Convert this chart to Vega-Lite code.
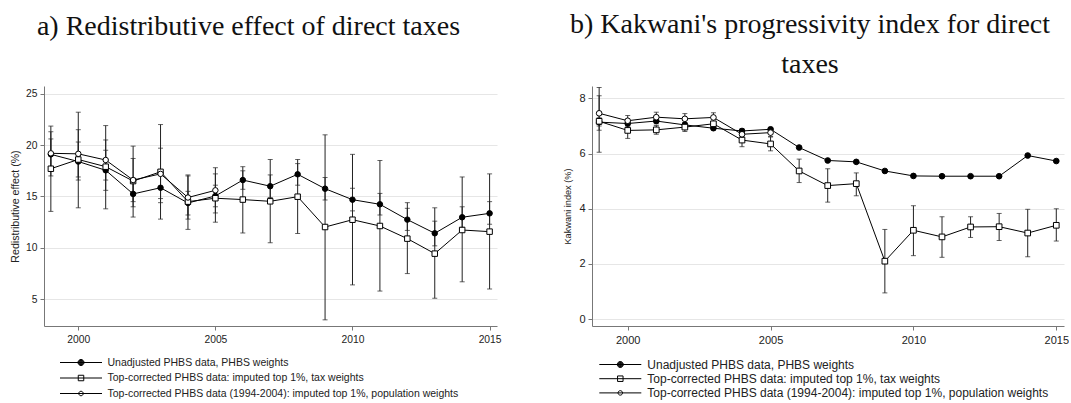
{
  "$schema": "https://vega.github.io/schema/vega-lite/v6.json",
  "background": "white",
  "padding": {"left": 10, "top": 11, "right": 0, "bottom": 0},
  "spacing": 61,
  "config": {
    "view": {"stroke": null},
    "font": "Liberation Sans",
    "axis": {"labelFont": "Liberation Sans", "titleFont": "Liberation Sans", "labelColor": "#222", "titleColor": "#222", "domainColor": "#777", "tickColor": "#777", "titleFontWeight": "normal", "tickSize": 4},
    "title": {"font": "Liberation Serif", "fontWeight": "normal", "color": "#111", "anchor": "middle"}
  },
  "datasets": {
    "left": [
      {"year": 1999, "s": "U", "v": 19.1, "lo": 17.0, "hi": 21.3},
      {"year": 2000, "s": "U", "v": 18.4, "lo": 16.6, "hi": 20.3},
      {"year": 2001, "s": "U", "v": 17.55, "lo": 15.6, "hi": 19.5},
      {"year": 2002, "s": "U", "v": 15.25, "lo": 14.0, "hi": 16.5},
      {"year": 2003, "s": "U", "v": 15.85, "lo": 14.4, "hi": 17.3},
      {"year": 2004, "s": "U", "v": 14.37, "lo": 13.2, "hi": 15.5},
      {"year": 2005, "s": "U", "v": 15.05, "lo": 14.0, "hi": 16.1},
      {"year": 2006, "s": "U", "v": 16.6, "lo": 15.7, "hi": 17.5},
      {"year": 2007, "s": "U", "v": 16.0, "lo": 14.9, "hi": 17.1},
      {"year": 2008, "s": "U", "v": 17.16, "lo": 16.1, "hi": 18.2},
      {"year": 2009, "s": "U", "v": 15.76, "lo": 14.66, "hi": 16.85},
      {"year": 2010, "s": "U", "v": 14.69, "lo": 13.6, "hi": 15.8},
      {"year": 2011, "s": "U", "v": 14.24, "lo": 13.2, "hi": 15.3},
      {"year": 2012, "s": "U", "v": 12.75, "lo": 11.7, "hi": 13.85},
      {"year": 2013, "s": "U", "v": 11.42, "lo": 10.2, "hi": 12.6},
      {"year": 2014, "s": "U", "v": 12.98, "lo": 12.0, "hi": 14.0},
      {"year": 2015, "s": "U", "v": 13.36, "lo": 12.3, "hi": 14.5},
      {"year": 1999, "s": "S", "v": 17.7, "lo": 13.55, "hi": 21.85},
      {"year": 2000, "s": "S", "v": 18.6, "lo": 13.9, "hi": 23.2},
      {"year": 2001, "s": "S", "v": 17.9, "lo": 13.8, "hi": 21.9},
      {"year": 2002, "s": "S", "v": 16.5, "lo": 13.0, "hi": 19.9},
      {"year": 2003, "s": "S", "v": 17.4, "lo": 12.8, "hi": 22.0},
      {"year": 2004, "s": "S", "v": 14.5, "lo": 11.8, "hi": 17.1},
      {"year": 2005, "s": "S", "v": 14.83, "lo": 12.5, "hi": 17.2},
      {"year": 2006, "s": "S", "v": 14.7, "lo": 11.45, "hi": 17.9},
      {"year": 2007, "s": "S", "v": 14.53, "lo": 10.5, "hi": 18.6},
      {"year": 2008, "s": "S", "v": 14.98, "lo": 11.4, "hi": 18.6},
      {"year": 2009, "s": "S", "v": 12.03, "lo": 3.0, "hi": 21.0},
      {"year": 2010, "s": "S", "v": 12.74, "lo": 6.4, "hi": 19.1},
      {"year": 2011, "s": "S", "v": 12.13, "lo": 5.8, "hi": 18.5},
      {"year": 2012, "s": "S", "v": 10.9, "lo": 7.5, "hi": 14.4},
      {"year": 2013, "s": "S", "v": 9.44, "lo": 5.1, "hi": 13.9},
      {"year": 2014, "s": "S", "v": 11.74, "lo": 6.7, "hi": 16.9},
      {"year": 2015, "s": "S", "v": 11.58, "lo": 6.0, "hi": 17.2},
      {"year": 1999, "s": "O", "v": 19.2, "lo": 17.8, "hi": 20.6},
      {"year": 2000, "s": "O", "v": 19.15, "lo": 16.9, "hi": 21.5},
      {"year": 2001, "s": "O", "v": 18.55, "lo": 16.6, "hi": 20.5},
      {"year": 2002, "s": "O", "v": 16.6, "lo": 14.5, "hi": 18.7},
      {"year": 2003, "s": "O", "v": 17.2, "lo": 14.8, "hi": 19.7},
      {"year": 2004, "s": "O", "v": 14.9, "lo": 12.8, "hi": 17.0},
      {"year": 2005, "s": "O", "v": 15.6, "lo": 13.4, "hi": 17.8}
    ],
    "right": [
      {"year": 1999, "s": "U", "v": 7.14, "lo": 7.0, "hi": 7.3},
      {"year": 2000, "s": "U", "v": 7.09, "lo": 7.0, "hi": 7.2},
      {"year": 2001, "s": "U", "v": 7.18, "lo": 7.08, "hi": 7.28},
      {"year": 2002, "s": "U", "v": 7.04, "lo": 6.95, "hi": 7.13},
      {"year": 2003, "s": "U", "v": 6.92, "lo": 6.86, "hi": 6.98},
      {"year": 2004, "s": "U", "v": 6.82, "lo": 6.75, "hi": 6.9},
      {"year": 2005, "s": "U", "v": 6.88, "lo": 6.8, "hi": 6.95},
      {"year": 2006, "s": "U", "v": 6.22, "lo": 6.18, "hi": 6.26},
      {"year": 2007, "s": "U", "v": 5.75, "lo": 5.72, "hi": 5.78},
      {"year": 2008, "s": "U", "v": 5.7, "lo": 5.67, "hi": 5.73},
      {"year": 2009, "s": "U", "v": 5.37, "lo": 5.34, "hi": 5.4},
      {"year": 2010, "s": "U", "v": 5.19, "lo": 5.16, "hi": 5.22},
      {"year": 2011, "s": "U", "v": 5.18, "lo": 5.15, "hi": 5.21},
      {"year": 2012, "s": "U", "v": 5.18, "lo": 5.15, "hi": 5.21},
      {"year": 2013, "s": "U", "v": 5.18, "lo": 5.15, "hi": 5.21},
      {"year": 2014, "s": "U", "v": 5.93, "lo": 5.9, "hi": 5.96},
      {"year": 2015, "s": "U", "v": 5.73, "lo": 5.7, "hi": 5.76},
      {"year": 1999, "s": "S", "v": 7.17, "lo": 6.05, "hi": 8.4},
      {"year": 2000, "s": "S", "v": 6.84, "lo": 6.55, "hi": 7.15},
      {"year": 2001, "s": "S", "v": 6.86, "lo": 6.7, "hi": 7.02},
      {"year": 2002, "s": "S", "v": 6.96, "lo": 6.8, "hi": 7.12},
      {"year": 2003, "s": "S", "v": 7.08, "lo": 6.9, "hi": 7.26},
      {"year": 2004, "s": "S", "v": 6.49, "lo": 6.25, "hi": 6.73},
      {"year": 2005, "s": "S", "v": 6.35, "lo": 6.1, "hi": 6.6},
      {"year": 2006, "s": "S", "v": 5.37, "lo": 4.95, "hi": 5.8},
      {"year": 2007, "s": "S", "v": 4.84, "lo": 4.24, "hi": 5.45},
      {"year": 2008, "s": "S", "v": 4.91, "lo": 4.47, "hi": 5.3},
      {"year": 2009, "s": "S", "v": 2.1, "lo": 0.95, "hi": 3.25},
      {"year": 2010, "s": "S", "v": 3.22, "lo": 2.3, "hi": 4.11},
      {"year": 2011, "s": "S", "v": 2.98, "lo": 2.24, "hi": 3.71},
      {"year": 2012, "s": "S", "v": 3.34, "lo": 2.96, "hi": 3.71},
      {"year": 2013, "s": "S", "v": 3.35, "lo": 2.85, "hi": 3.83},
      {"year": 2014, "s": "S", "v": 3.12, "lo": 2.26, "hi": 3.98},
      {"year": 2015, "s": "S", "v": 3.4, "lo": 2.83, "hi": 4.0},
      {"year": 1999, "s": "O", "v": 7.46, "lo": 6.85, "hi": 8.1},
      {"year": 2000, "s": "O", "v": 7.19, "lo": 7.0, "hi": 7.38},
      {"year": 2001, "s": "O", "v": 7.32, "lo": 7.15, "hi": 7.5},
      {"year": 2002, "s": "O", "v": 7.26, "lo": 7.08, "hi": 7.45},
      {"year": 2003, "s": "O", "v": 7.31, "lo": 7.14, "hi": 7.48},
      {"year": 2004, "s": "O", "v": 6.7, "lo": 6.6, "hi": 6.8},
      {"year": 2005, "s": "O", "v": 6.76, "lo": 6.62, "hi": 6.9}
    ]
  },
  "resolve": {"scale": {"shape": "independent", "fill": "independent"}, "legend": {"shape": "independent", "fill": "independent"}},
  "hconcat": [
    {
      "width": 453,
      "height": 240,
      "title": {"text": "a) Redistributive effect of direct taxes", "fontSize": 28, "baseline": "alphabetic", "offset": 23.5, "dx": -22},
      "data": {"name": "left"},
      "encoding": {
        "x": {"field": "year", "type": "quantitative", "scale": {"domain": [1998.75, 2015.27], "nice": false, "zero": false},
          "axis": {"values": [2000, 2005, 2010, 2015], "format": "d", "title": null, "grid": false, "labelFontSize": 10.3, "labelPadding": 4}}
      },
      "resolve": {"scale": {"shape": "independent"}, "legend": {"shape": "independent"}},
      "layer": [
        {"mark": {"type": "line", "color": "black", "strokeWidth": 1},
         "encoding": {"y": {"field": "v", "type": "quantitative", "scale": {"domain": [2.4, 25.75], "nice": false, "zero": false},
            "axis": {"values": [5, 10, 15, 20, 25], "title": "Redistributive effect (%)", "titleFontSize": 10.6, "titlePadding": 5, "labelFontSize": 10.3, "labelPadding": 3, "grid": true, "gridColor": "#e6e6e6", "gridWidth": 1.2}},
           "detail": {"field": "s", "type": "nominal"}}},
        {"mark": {"type": "rule", "color": "#222", "strokeWidth": 1},
         "encoding": {"y": {"field": "lo", "type": "quantitative", "title": "Redistributive effect (%)", "scale": {"domain": [2.4, 25.75], "nice": false, "zero": false}}, "y2": {"field": "hi"}}},
        {"mark": {"type": "tick", "orient": "horizontal", "size": 5, "thickness": 1, "color": "#222"},
         "encoding": {"y": {"field": "lo", "type": "quantitative", "title": "Redistributive effect (%)", "scale": {"domain": [2.4, 25.75], "nice": false, "zero": false}}}},
        {"mark": {"type": "tick", "orient": "horizontal", "size": 5, "thickness": 1, "color": "#222"},
         "encoding": {"y": {"field": "hi", "type": "quantitative", "title": "Redistributive effect (%)", "scale": {"domain": [2.4, 25.75], "nice": false, "zero": false}}}},
        {"mark": {"type": "point", "filled": true, "stroke": "black", "strokeWidth": 1, "opacity": 1, "size": 30},
         "encoding": {
           "y": {"field": "v", "type": "quantitative", "title": "Redistributive effect (%)", "scale": {"domain": [2.4, 25.75], "nice": false, "zero": false}},
           "shape": {"field": "s", "type": "nominal", "scale": {"domain": ["U", "S", "O"], "range": ["circle", "square", "circle"]}, "legend": null},
           "fill": {"field": "s", "type": "nominal", "scale": {"domain": ["U", "S", "O"], "range": ["black", "white", "white"]}, "legend": null}
         }},
        {"transform": [{"filter": "false"}],
         "mark": {"type": "point", "filled": false, "color": "black", "strokeWidth": 1, "opacity": 1},
         "encoding": {
           "y": {"field": "v", "type": "quantitative", "title": "Redistributive effect (%)", "scale": {"domain": [2.4, 25.75], "nice": false, "zero": false}},
           "shape": {"field": "s", "type": "nominal",
             "scale": {"domain": ["U", "S", "O"], "range": [
               "M-4.2,0H4.2M0.6,0A0.6,0.6,0,1,1,-0.6,0A0.6,0.6,0,1,1,0.6,0M0.5,0A0.5,0.5,0,1,1,-0.5,0A0.5,0.5,0,1,1,0.5,0M0.4,0A0.4,0.4,0,1,1,-0.4,0A0.4,0.4,0,1,1,0.4,0M0.3,0A0.3,0.3,0,1,1,-0.3,0A0.3,0.3,0,1,1,0.3,0M0.2,0A0.2,0.2,0,1,1,-0.2,0A0.2,0.2,0,1,1,0.2,0M0.1,0A0.1,0.1,0,1,1,-0.1,0A0.1,0.1,0,1,1,0.1,0",
               "M-4.2,0H4.2M-0.55,-0.55H0.55V0.55H-0.55Z",
               "M-4.2,0H4.2M0.45,0A0.45,0.45,0,1,1,-0.45,0A0.45,0.45,0,1,1,0.45,0"]},
             "legend": {"orient": "none", "legendX": 16, "legendY": 271, "direction": "vertical", "title": null, "padding": 0,
               "labelFont": "Liberation Sans", "labelFontSize": 10.5, "labelColor": "#222", "labelLimit": 0,
               "symbolOffset": 15.5, "labelOffset": 21, "rowPadding": 4.5, "symbolSize": 100, "symbolStrokeWidth": 1, "symbolStrokeColor": "black", "symbolFillColor": "transparent",
               "labelExpr": "datum.value == 'U' ? 'Unadjusted PHBS data, PHBS weights' : datum.value == 'S' ? 'Top-corrected PHBS data: imputed top 1%, tax weights' : 'Top-corrected PHBS data (1994-2004): imputed top 1%, population weights'"}}
         }}
      ]
    },
    {
      "width": 472,
      "height": 240,
      "title": {"text": ["b) Kakwani's progressivity index for direct", "taxes"], "fontSize": 28, "baseline": "alphabetic", "lineHeight": 40, "offset": -15, "dx": -18},
      "data": {"name": "right"},
      "encoding": {
        "x": {"field": "year", "type": "quantitative", "scale": {"domain": [1998.75, 2015.27], "nice": false, "zero": false},
          "axis": {"values": [2000, 2005, 2010, 2015], "format": "d", "title": null, "grid": false, "labelFontSize": 11, "labelPadding": 4}}
      },
      "resolve": {"scale": {"shape": "independent"}, "legend": {"shape": "independent"}},
      "layer": [
        {"mark": {"type": "line", "color": "black", "strokeWidth": 1},
         "encoding": {"y": {"field": "v", "type": "quantitative", "scale": {"domain": [-0.25, 8.45], "nice": false, "zero": false},
            "axis": {"values": [0, 2, 4, 6, 8], "title": "Kakwani index (%)", "titleFontSize": 9.2, "titlePadding": 6, "labelFontSize": 11, "labelPadding": 3, "grid": true, "gridColor": "#e6e6e6", "gridWidth": 1.2}},
           "detail": {"field": "s", "type": "nominal"}}},
        {"mark": {"type": "rule", "color": "#222", "strokeWidth": 1},
         "encoding": {"y": {"field": "lo", "type": "quantitative", "title": "Kakwani index (%)", "scale": {"domain": [-0.25, 8.45], "nice": false, "zero": false}}, "y2": {"field": "hi"}}},
        {"mark": {"type": "tick", "orient": "horizontal", "size": 5, "thickness": 1, "color": "#222"},
         "encoding": {"y": {"field": "lo", "type": "quantitative", "title": "Kakwani index (%)", "scale": {"domain": [-0.25, 8.45], "nice": false, "zero": false}}}},
        {"mark": {"type": "tick", "orient": "horizontal", "size": 5, "thickness": 1, "color": "#222"},
         "encoding": {"y": {"field": "hi", "type": "quantitative", "title": "Kakwani index (%)", "scale": {"domain": [-0.25, 8.45], "nice": false, "zero": false}}}},
        {"mark": {"type": "point", "filled": true, "stroke": "black", "strokeWidth": 1, "opacity": 1, "size": 32},
         "encoding": {
           "y": {"field": "v", "type": "quantitative", "title": "Kakwani index (%)", "scale": {"domain": [-0.25, 8.45], "nice": false, "zero": false}},
           "shape": {"field": "s", "type": "nominal", "scale": {"domain": ["U", "S", "O"], "range": ["circle", "square", "circle"]}, "legend": null},
           "fill": {"field": "s", "type": "nominal", "scale": {"domain": ["U", "S", "O"], "range": ["black", "white", "white"]}, "legend": null}
         }},
        {"transform": [{"filter": "false"}],
         "mark": {"type": "point", "filled": false, "color": "black", "strokeWidth": 1, "opacity": 1},
         "encoding": {
           "y": {"field": "v", "type": "quantitative", "title": "Kakwani index (%)", "scale": {"domain": [-0.25, 8.45], "nice": false, "zero": false}},
           "shape": {"field": "s", "type": "nominal",
             "scale": {"domain": ["U", "S", "O"], "range": [
               "M-4.2,0H4.2M0.6,0A0.6,0.6,0,1,1,-0.6,0A0.6,0.6,0,1,1,0.6,0M0.5,0A0.5,0.5,0,1,1,-0.5,0A0.5,0.5,0,1,1,0.5,0M0.4,0A0.4,0.4,0,1,1,-0.4,0A0.4,0.4,0,1,1,0.4,0M0.3,0A0.3,0.3,0,1,1,-0.3,0A0.3,0.3,0,1,1,0.3,0M0.2,0A0.2,0.2,0,1,1,-0.2,0A0.2,0.2,0,1,1,0.2,0M0.1,0A0.1,0.1,0,1,1,-0.1,0A0.1,0.1,0,1,1,0.1,0",
               "M-4.2,0H4.2M-0.55,-0.55H0.55V0.55H-0.55Z",
               "M-4.2,0H4.2M0.45,0A0.45,0.45,0,1,1,-0.45,0A0.45,0.45,0,1,1,0.45,0"]},
             "legend": {"orient": "none", "legendX": 7.3, "legendY": 272.5, "direction": "vertical", "title": null, "padding": 0,
               "labelFont": "Liberation Sans", "labelFontSize": 12, "labelColor": "#222", "labelLimit": 0,
               "symbolOffset": 15, "labelOffset": 21, "rowPadding": 2.2, "symbolSize": 100, "symbolStrokeWidth": 1, "symbolStrokeColor": "black", "symbolFillColor": "transparent",
               "labelExpr": "datum.value == 'U' ? 'Unadjusted PHBS data, PHBS weights' : datum.value == 'S' ? 'Top-corrected PHBS data: imputed top 1%, tax weights' : 'Top-corrected PHBS data (1994-2004): imputed top 1%, population weights'"}}
         }}
      ]
    }
  ]
}
